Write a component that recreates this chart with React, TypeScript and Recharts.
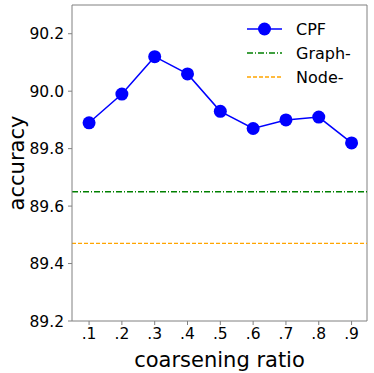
import React from 'react';
import { LineChart, Line, XAxis, YAxis, ReferenceLine } from 'recharts';

const ratios = [0.1, 0.2, 0.3, 0.4, 0.5, 0.6, 0.7, 0.8, 0.9];
const cpfAccuracy = [89.89, 89.99, 90.12, 90.06, 89.93, 89.87, 89.9, 89.91, 89.82];
const graphBaseline = 89.65;
const nodeBaseline = 89.47;
const yTicks = [89.2, 89.4, 89.6, 89.8, 90.0, 90.2];
const xLabels = ['.1', '.2', '.3', '.4', '.5', '.6', '.7', '.8', '.9'];

const data = ratios.map((r, i) => ({ ratio: r, cpf: cpfAccuracy[i] }));

const X_DOMAIN: [number, number] = [0.048, 0.947];
const Y_DOMAIN: [number, number] = [89.2, 90.3];
const FONT = 'DejaVu Sans, sans-serif';
const SPINE = '#808080';

const legendItems = [
  { name: 'CPF', color: '#0000ff', dash: undefined as string | undefined, marker: true },
  { name: 'Graph-', color: '#008000', dash: '6 2 1 2', marker: false },
  { name: 'Node-', color: '#ffa500', dash: '4 2', marker: false },
];

// drawn as an overlay so it doesn't take space away from the plot
const LegendBox = () => (
  <svg width={130} height={80} style={{ position: 'absolute', top: 17, left: 245 }}>
    {legendItems.map((it, i) => {
      const y = 12 + i * 24;
      return (
        <g key={it.name}>
          <line x1={2} x2={37} y1={y} y2={y} stroke={it.color} strokeWidth={it.marker ? 1.5 : 1.3} strokeDasharray={it.dash} />
          {it.marker && <circle cx={19.5} cy={y} r={6.5} fill={it.color} />}
          <text x={51} y={y} dominantBaseline="central" fontSize={16} fontFamily={FONT} fill="#000">
            {it.name}
          </text>
        </g>
      );
    })}
  </svg>
);

export default function App() {
  return (
    <div style={{ position: 'fixed', top: 0, left: 0, width: 374, height: 373, background: '#fff' }}>
      <LineChart width={374} height={373} data={data} margin={{ top: 5, right: 7, left: 10, bottom: 0 }}>
        <XAxis
          dataKey="ratio"
          type="number"
          domain={X_DOMAIN}
          ticks={ratios}
          tickFormatter={(v: number) => xLabels[ratios.findIndex((r) => Math.abs(r - v) < 1e-6)]}
          allowDataOverflow
          height={52}
          tickSize={4}
          tickMargin={3}
          stroke={SPINE}
          tick={{ fill: '#000', fontSize: 15.5, fontFamily: FONT }}
          label={{ value: 'coarsening ratio', position: 'insideBottom', offset: 6, fill: '#000', fontSize: 21, fontFamily: FONT }}
        />
        <YAxis
          type="number"
          domain={Y_DOMAIN}
          ticks={yTicks}
          tickFormatter={(v: number) => v.toFixed(1)}
          allowDataOverflow
          width={62}
          tickSize={4}
          tickMargin={4}
          stroke={SPINE}
          tick={{ fill: '#000', fontSize: 15.5, fontFamily: FONT }}
          label={({ viewBox }: any) => {
            const cx = viewBox.x + 7;
            const cy = viewBox.y + viewBox.height / 2;
            return (
              <text x={cx} y={cy} transform={`rotate(-90 ${cx} ${cy})`} textAnchor="middle" dominantBaseline="central" fontSize={21} fontFamily={FONT} fill="#000">
                accuracy
              </text>
            );
          }}
        />
        {/* top and right spines */}
        <ReferenceLine y={Y_DOMAIN[1]} stroke={SPINE} strokeWidth={1} />
        <ReferenceLine x={X_DOMAIN[1]} stroke={SPINE} strokeWidth={1} />
        <ReferenceLine y={graphBaseline} stroke="#008000" strokeOpacity={1} strokeWidth={1.3} strokeDasharray="6 2 1 2" />
        <ReferenceLine y={nodeBaseline} stroke="#ffa500" strokeOpacity={1} strokeWidth={1.3} strokeDasharray="4 2" />
        <Line
          dataKey="cpf"
          stroke="#0000ff"
          strokeWidth={1.5}
          dot={{ r: 6.5, fill: '#0000ff', stroke: 'none' }}
          isAnimationActive={false}
        />
      </LineChart>
      <LegendBox />
    </div>
  );
}
